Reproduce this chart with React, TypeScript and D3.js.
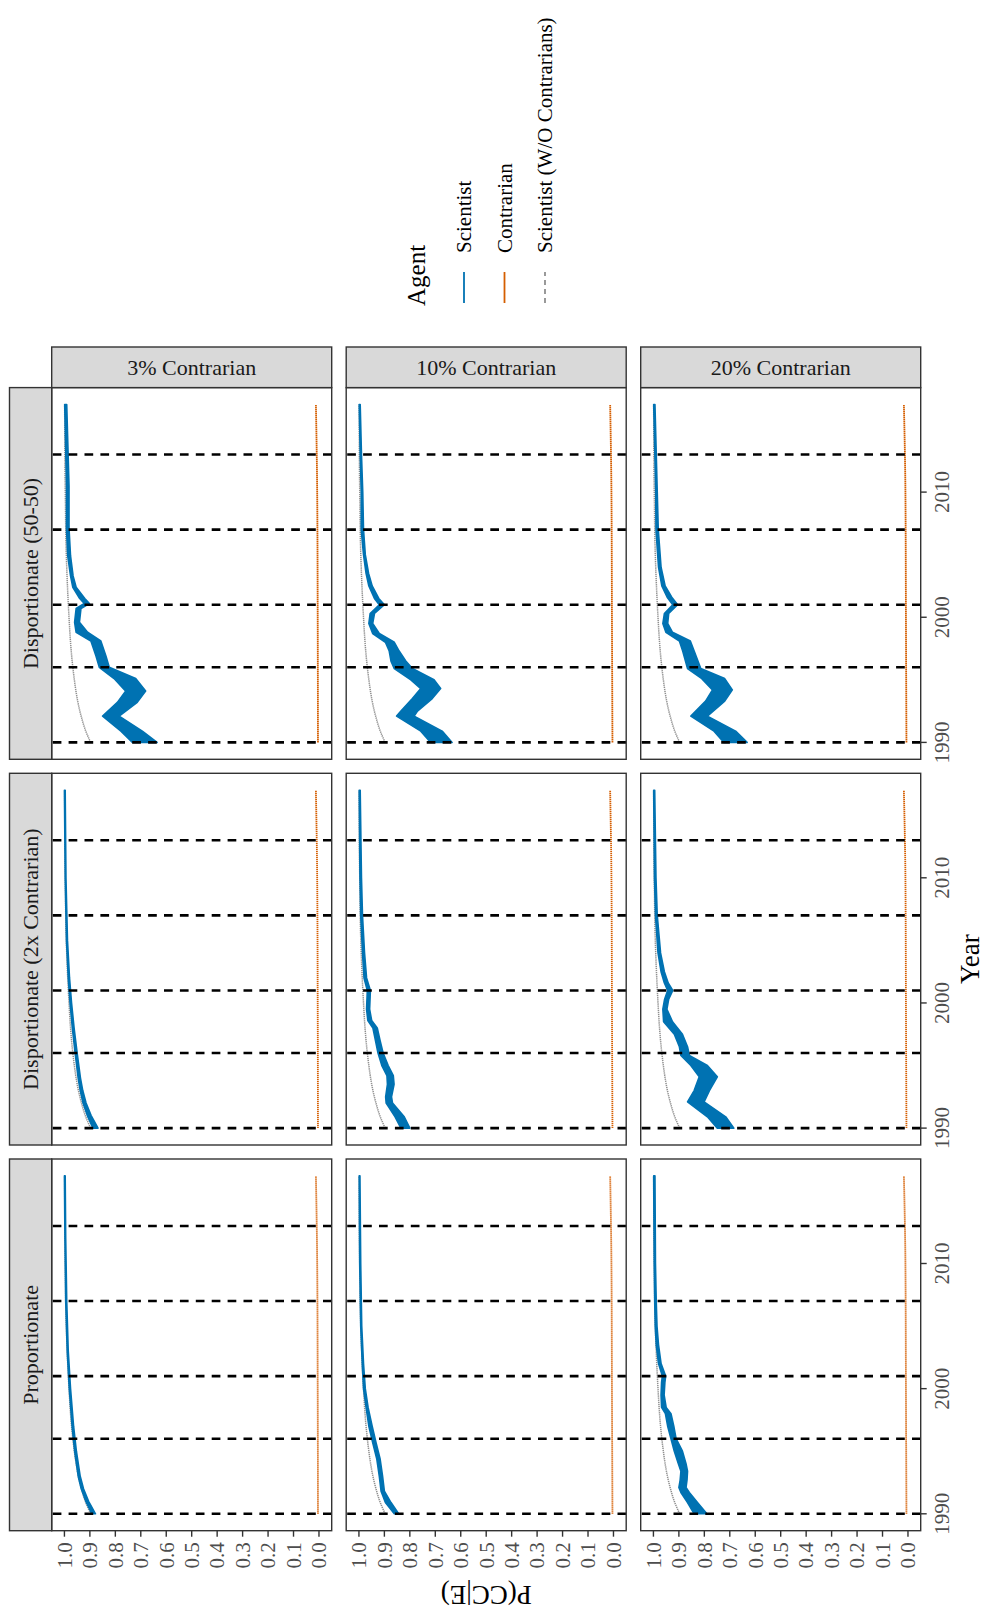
import React from 'react';
import * as d3 from 'd3';

type Band = [number, number, number]; // year, lower, upper
type Pt = [number, number]; // year, value

const facetCols = ['Proportionate', 'Disportionate (2x Contrarian)', 'Disportionate (50-50)'];
const facetRows = ['3% Contrarian', '10% Contrarian', '20% Contrarian'];
const agentLabels = ['Scientist', 'Contrarian', 'Scientist (W/O Contrarians)'];
const agentColors = ['#0072B2', '#D55E00', '#8f8f8f'];
const yTicks = [0, 0.1, 0.2, 0.3, 0.4, 0.5, 0.6, 0.7, 0.8, 0.9, 1.0];
const xTicks = [1990, 2000, 2010];
const reportYears = [1990, 1996, 2001, 2007, 2013];
const yearSpan = [1990, 2017];

// scientist without contrarians (same baseline in every panel)
const baseline: Pt[] = [
    [1990, 0.897], [1991, 0.918], [1992, 0.933], [1993, 0.945], [1994, 0.954], [1995, 0.961],
    [1996, 0.967], [1997, 0.972], [1998, 0.976], [2000, 0.982], [2002, 0.987], [2004, 0.991],
    [2006, 0.994], [2009, 0.996], [2012, 0.998], [2017, 0.999],
];

// contrarians, by row
const contrarian3: Pt[] = [[1990, 0.004], [2000, 0.005], [2010, 0.007], [2017, 0.012]];
const contrarian10: Pt[] = [[1990, 0.004], [2000, 0.006], [2010, 0.008], [2017, 0.013]];
const contrarian20: Pt[] = [[1990, 0.006], [2000, 0.008], [2010, 0.010], [2017, 0.016]];

// scientists, proportionate
const sciProp3: Band[] = [
    [1990, 0.878, 0.892], [1991, 0.905, 0.916], [1992, 0.925, 0.934], [1993, 0.938, 0.946],
    [1995, 0.953, 0.960], [1997, 0.964, 0.970], [2000, 0.976, 0.981], [2003, 0.985, 0.989],
    [2007, 0.991, 0.995], [2012, 0.995, 0.998], [2017, 0.997, 1.0],
];
const sciProp10: Band[] = [
    [1990, 0.844, 0.861], [1990.9, 0.874, 0.896], [1991.8, 0.900, 0.913], [1993, 0.907, 0.920],
    [1994.4, 0.917, 0.930], [1995.7, 0.933, 0.946], [1997, 0.948, 0.961], [1998.5, 0.964, 0.972],
    [2000, 0.975, 0.982], [2002, 0.982, 0.987], [2005, 0.989, 0.993], [2010, 0.993, 0.997],
    [2017, 0.996, 0.999],
];
const sciProp20: Band[] = [
    [1990, 0.79, 0.84], [1990.9, 0.827, 0.866], [1991.7, 0.859, 0.892], [1992.1, 0.872, 0.900],
    [1992.7, 0.868, 0.895], [1993.4, 0.866, 0.892], [1994, 0.872, 0.902], [1995, 0.886, 0.918],
    [1996, 0.911, 0.931], [1997, 0.920, 0.944], [1998, 0.931, 0.953], [1998.5, 0.950, 0.968],
    [1999.5, 0.958, 0.970], [2000.5, 0.955, 0.968], [2001, 0.952, 0.965], [2002, 0.970, 0.980],
    [2003.5, 0.980, 0.989], [2005, 0.986, 0.993], [2007, 0.989, 0.995], [2010, 0.992, 0.997],
    [2017, 0.994, 0.999],
];

// scientists, disportionate (2x contrarian)
const sci2x3: Band[] = [
    [1990, 0.868, 0.888], [1991, 0.895, 0.910], [1992, 0.915, 0.927], [1993, 0.928, 0.938],
    [1994, 0.937, 0.946], [1996, 0.950, 0.958], [1998, 0.962, 0.969], [2000, 0.972, 0.978],
    [2002, 0.980, 0.985], [2005, 0.988, 0.992], [2010, 0.994, 0.997], [2017, 0.997, 1.0],
];
const sci2x10: Band[] = [
    [1990, 0.80, 0.835], [1990.9, 0.822, 0.858], [1992, 0.868, 0.893], [1992.5, 0.872, 0.895],
    [1993.5, 0.862, 0.888], [1994.2, 0.865, 0.89], [1995, 0.885, 0.91], [1996, 0.905, 0.925],
    [1997, 0.917, 0.935], [1998, 0.928, 0.945], [1998.6, 0.950, 0.965], [1999.5, 0.958, 0.970],
    [2000.5, 0.956, 0.968], [2001, 0.955, 0.967], [2002, 0.970, 0.980], [2004, 0.978, 0.986],
    [2007, 0.986, 0.993], [2010, 0.990, 0.996], [2017, 0.995, 0.999],
];
const sci2x20: Band[] = [
    [1990, 0.684, 0.749], [1990.9, 0.716, 0.788], [1992.1, 0.801, 0.866], [1993, 0.78, 0.84],
    [1994.1, 0.749, 0.82], [1995, 0.788, 0.853], [1995.8, 0.859, 0.892], [1996.5, 0.866, 0.898],
    [1997.5, 0.886, 0.918], [1998.5, 0.925, 0.96], [1999.5, 0.947, 0.963], [2000.3, 0.94, 0.956],
    [2001, 0.924, 0.944], [2001.6, 0.942, 0.957], [2002.5, 0.957, 0.97], [2004, 0.972, 0.982],
    [2007, 0.985, 0.992], [2010, 0.99, 0.996], [2017, 0.995, 0.999],
];

// scientists, disportionate (50-50)
const sci5050_3: Band[] = [
    [1990, 0.636, 0.733], [1990.9, 0.694, 0.778], [1992.1, 0.785, 0.85], [1993.2, 0.714, 0.792],
    [1994.1, 0.681, 0.759], [1995.1, 0.72, 0.805], [1996, 0.824, 0.863], [1996.9, 0.837, 0.876],
    [1998.1, 0.857, 0.896], [1998.8, 0.909, 0.954], [1999.6, 0.941, 0.96], [2000.7, 0.935, 0.954],
    [2001.1, 0.902, 0.922], [2001.5, 0.92, 0.94], [2002.4, 0.954, 0.967], [2003.3, 0.966, 0.976],
    [2004.9, 0.976, 0.987], [2007.1, 0.982, 0.992], [2010.5, 0.982, 0.992], [2017, 0.991, 0.999],
];
const sci5050_10: Band[] = [
    [1990, 0.634, 0.718], [1990.9, 0.673, 0.757], [1992.1, 0.783, 0.852], [1992.5, 0.770, 0.835],
    [1993.5, 0.712, 0.790], [1994.3, 0.679, 0.757], [1995, 0.705, 0.796], [1995.9, 0.790, 0.861],
    [1996.5, 0.816, 0.874], [1997.3, 0.842, 0.881], [1998, 0.861, 0.896], [1998.7, 0.920, 0.946],
    [1999.5, 0.946, 0.961], [2000.3, 0.939, 0.956], [2001, 0.900, 0.920], [2001.5, 0.922, 0.939],
    [2002.5, 0.948, 0.961], [2003.5, 0.962, 0.972], [2005, 0.975, 0.982], [2007, 0.982, 0.991],
    [2010, 0.985, 0.991], [2013, 0.990, 0.995], [2017, 0.995, 0.999],
];
const sci5050_20: Band[] = [
    [1990, 0.632, 0.723], [1990.9, 0.677, 0.762], [1992.1, 0.788, 0.853], [1993.3, 0.72, 0.795],
    [1994.2, 0.69, 0.768], [1995.1, 0.72, 0.81], [1995.9, 0.814, 0.866], [1997.3, 0.84, 0.885],
    [1998.1, 0.855, 0.898], [1998.8, 0.925, 0.951], [1999.5, 0.944, 0.963], [2000.3, 0.94, 0.957],
    [2001, 0.905, 0.924], [2001.6, 0.928, 0.946], [2002.5, 0.954, 0.967], [2004, 0.97, 0.98],
    [2007, 0.981, 0.99], [2010, 0.985, 0.991], [2017, 0.994, 0.999],
];

const scientist: Band[][][] = [
    [sciProp3, sciProp10, sciProp20],
    [sci2x3, sci2x10, sci2x20],
    [sci5050_3, sci5050_10, sci5050_20],
];
const contrarian: Pt[][] = [contrarian3, contrarian10, contrarian20];

// layout (drawn unrotated, then turned 90° counter-clockwise)
const W = 1610;
const PW = 371.7;
const PH = 280;
const colX = (c: number) => 79.3 + c * 385.7;
const rowY = (r: number) => 51.7 + r * 294.5;
const FONT = "'Liberation Serif', 'Times New Roman', serif";

const App: React.FC = () => {
    const x = d3.scaleLinear().domain([yearSpan[0] - 1.35, yearSpan[1] + 1.35]).range([0, PW]);
    const y = d3.scaleLinear().domain([-0.05, 1.05]).range([PH, 0]);
    const band = d3.area<Band>().x(d => x(d[0])).y0(d => y(d[1])).y1(d => y(d[2]));
    const line = d3.line<Pt>().x(d => x(d[0])).y(d => y(d[1])).curve(d3.curveMonotoneX);

    return (
        <svg width={985} height={1610} style={{position: 'absolute', left: 0, top: 0, background: '#fff'}}
             fontFamily={FONT}>
            <g transform={`translate(0,${W}) rotate(-90)`}>
                {facetCols.map((colName, c) => facetRows.map((rowName, r) => {
                    const sci = scientist[c][r];
                    return (
                        <g key={`${c}-${r}`} transform={`translate(${colX(c)},${rowY(r)})`}>
                            <rect width={PW} height={PH} fill="#fff"/>
                            <path d={line(baseline) || ''} fill="none" stroke={agentColors[2]} strokeWidth={1.5}
                                  strokeDasharray="1.3 0.8"/>
                            <path d={band(sci) || ''} fill={agentColors[0]} stroke={agentColors[0]} strokeWidth={1.6}
                                  strokeLinejoin="round"/>
                            <path d={line(contrarian[r]) || ''} fill="none" stroke={agentColors[1]} strokeWidth={1.8}
                                  strokeDasharray="1.4 0.6"/>
                            {reportYears.map(yr => (
                                <line key={yr} x1={x(yr)} x2={x(yr)} y1={PH} y2={0} stroke="#000"
                                      strokeWidth={2.6} strokeDasharray="8.7 7.2"/>
                            ))}
                            <rect width={PW} height={PH} fill="none" stroke="#333" strokeWidth={1.4}/>
                        </g>
                    );
                }))}

                {/* column strips */}
                {facetCols.map((name, c) => (
                    <g key={name} transform={`translate(${colX(c)},9.5)`}>
                        <rect width={PW} height={42.2} fill="#d9d9d9" stroke="#333" strokeWidth={1.4}/>
                        <text x={PW / 2} y={21.1} dy="0.35em" textAnchor="middle" fontSize={22} fill="#1a1a1a">
                            {name}
                        </text>
                    </g>
                ))}

                {/* row strips */}
                {facetRows.map((name, r) => (
                    <g key={name} transform={`translate(${colX(2) + PW},${rowY(r)})`}>
                        <rect width={40.6} height={PH} fill="#d9d9d9" stroke="#333" strokeWidth={1.4}/>
                        <text transform={`translate(20.3,${PH / 2}) rotate(90)`} dy="0.35em" textAnchor="middle"
                              fontSize={22} fill="#1a1a1a">{name}</text>
                    </g>
                ))}

                {/* y axis (P) for each row */}
                {facetRows.map((name, r) => (
                    <g key={name} transform={`translate(${colX(0)},${rowY(r)})`}>
                        {yTicks.map(t => (
                            <g key={t}>
                                <line x1={-6} x2={0} y1={y(t)} y2={y(t)} stroke="#333" strokeWidth={1.4}/>
                                <text x={-11.5} y={y(t)} dy="0.35em" textAnchor="end" fontSize={21}
                                      fill="#4d4d4d">{t.toFixed(1)}</text>
                            </g>
                        ))}
                    </g>
                ))}

                {/* x axis (Year) for each column */}
                {facetCols.map((name, c) => (
                    <g key={name} transform={`translate(${colX(c)},${rowY(2) + PH})`}>
                        {xTicks.map(t => (
                            <g key={t}>
                                <line x1={x(t)} x2={x(t)} y1={0} y2={6} stroke="#333" strokeWidth={1.4}/>
                                <text x={x(t)} y={28} textAnchor="middle" fontSize={21} fill="#4d4d4d">{t}</text>
                            </g>
                        ))}
                    </g>
                ))}

                <text x={(colX(0) + colX(2) + PW) / 2} y={979} textAnchor="middle" fontSize={27}>Year</text>
                <text transform={`translate(24,${(rowY(0) + rowY(2) + PH) / 2}) rotate(-90)`} textAnchor="middle"
                      fontSize={27}>P(CC|E)</text>

                {/* legend */}
                <g>
                    <text x={1304} y={425} fontSize={25}>Agent</text>
                    {agentLabels.map((lab, i) => {
                        const ky = 464 + i * 40.5;
                        return (
                            <g key={lab}>
                                <line x1={1307} x2={1338} y1={ky} y2={ky} stroke={agentColors[i]} strokeWidth={1.8}
                                      strokeDasharray={i === 2 ? '5 4' : undefined}/>
                                <text x={1357} y={ky + 7} fontSize={21}>{lab}</text>
                            </g>
                        );
                    })}
                </g>
            </g>
        </svg>
    );
};

export default App;
